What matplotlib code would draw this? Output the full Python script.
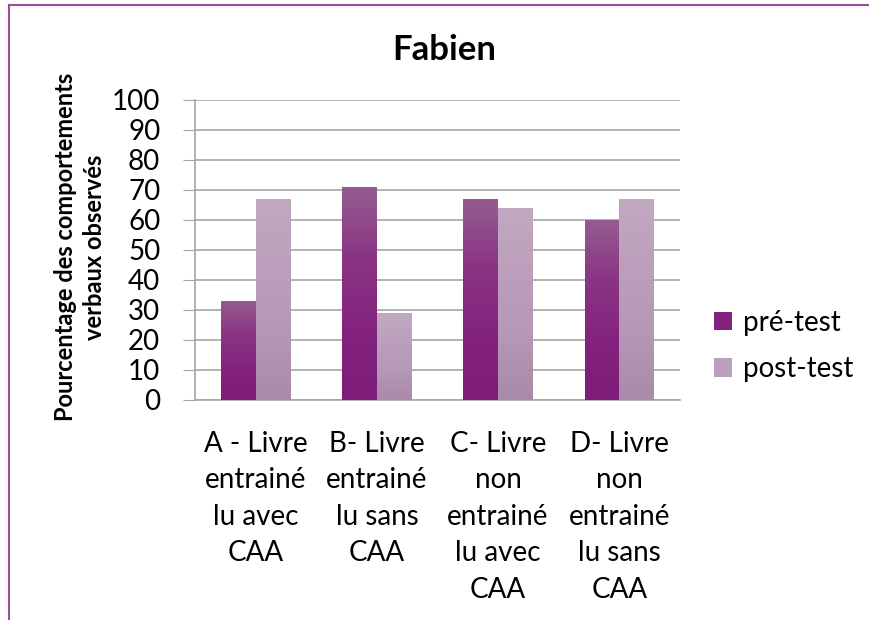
import numpy as np
import matplotlib
matplotlib.use('Agg')
import matplotlib.pyplot as plt
from matplotlib.colors import to_rgb
from matplotlib.lines import Line2D
from matplotlib.patches import Patch

categories = ['A - Livre\nentrainé\nlu avec\nCAA',
              'B- Livre\nentrainé\nlu sans\nCAA',
              'C- Livre\nnon\nentrainé\nlu avec\nCAA',
              'D- Livre\nnon\nentrainé\nlu sans\nCAA']
pre_test = [33, 71, 67, 60]
post_test = [67, 29, 64, 67]
series_names = ['pré-test', 'post-test']

plt.rcParams['font.family'] = ['Lato', 'DejaVu Sans']

# gradient stops (top -> bottom)
pre_stops = ['#945c90', '#8a3484', '#84237f', '#7e1c79']
post_stops = ['#c1a8c1', '#bc9fbc', '#b598b5', '#a98aa8']


def gradient(stops, n=100):
    cols = np.array([to_rgb(c) for c in stops])
    t = np.linspace(0, 1, n)
    pos = np.linspace(0, 1, len(stops))
    img = np.stack([np.interp(t, pos, cols[:, k]) for k in range(3)], axis=1)
    return img[:, None, :]


fig = plt.figure(figsize=(8.7, 6.2), dpi=100)
ax = fig.add_axes([195 / 870, 1 - 400 / 620, 485 / 870, 300 / 620])

x = np.arange(len(categories))
w = 1 / 3.5
bars_pre = ax.bar(x - w / 2, pre_test, w, color='none', edgecolor='none', zorder=2)
bars_post = ax.bar(x + w / 2, post_test, w, color='none', edgecolor='none', zorder=2)

for bars, stops in ((bars_pre, pre_stops), (bars_post, post_stops)):
    img = gradient(stops)
    for b in bars:
        x0, y0 = b.get_x(), b.get_y()
        im = ax.imshow(img, extent=(x0, x0 + b.get_width(), y0, y0 + b.get_height()),
                       aspect='auto', origin='upper', zorder=3)
        im.set_clip_path(b)

ax.set_xlim(-0.5, len(categories) - 0.5)
ax.set_ylim(0, 100)
ax.set_yticks(range(0, 101, 10))
ax.yaxis.grid(True, color='#a6a6a6', linewidth=1.2)
ax.set_axisbelow(True)
for s in ['top', 'right']:
    ax.spines[s].set_visible(False)
for s in ['left', 'bottom']:
    ax.spines[s].set_color('#a6a6a6')
    ax.spines[s].set_linewidth(1.2)
ax.tick_params(axis='y', length=9, color='#a6a6a6', labelsize=20, pad=16)
ax.tick_params(axis='x', length=0, labelsize=20, pad=22)
ax.set_xticks(x)
ax.set_xticklabels(categories, linespacing=1.5)

fig.text(0.511, 1 - 50 / 620, 'Fabien', ha='center', va='center',
         fontsize=25, fontweight='bold')
fig.text(80 / 870, 1 - 247 / 620, 'Pourcentage des comportements\nverbaux observés',
         ha='center', va='center', rotation=90, fontsize=17, fontweight='bold',
         linespacing=1.35)

handles = [Patch(facecolor=pre_stops[2]), Patch(facecolor=post_stops[1])]
fig.legend(handles, series_names, loc='center left',
           bbox_to_anchor=(714 / 870, 1 - 346 / 620), frameon=False, borderpad=0,
           borderaxespad=0, fontsize=20, handlelength=0.65, handleheight=0.65,
           handletextpad=0.4, labelspacing=0.75)

# chart border
fig.add_artist(Line2D([9 / 870, 1], [1 - 5 / 620, 1 - 5 / 620],
                      transform=fig.transFigure, color='#9b4c9b', lw=1.5))
fig.add_artist(Line2D([9 / 870, 9 / 870], [0, 1 - 5 / 620],
                      transform=fig.transFigure, color='#9b4c9b', lw=1.5))

plt.savefig('out.png', dpi=100)
